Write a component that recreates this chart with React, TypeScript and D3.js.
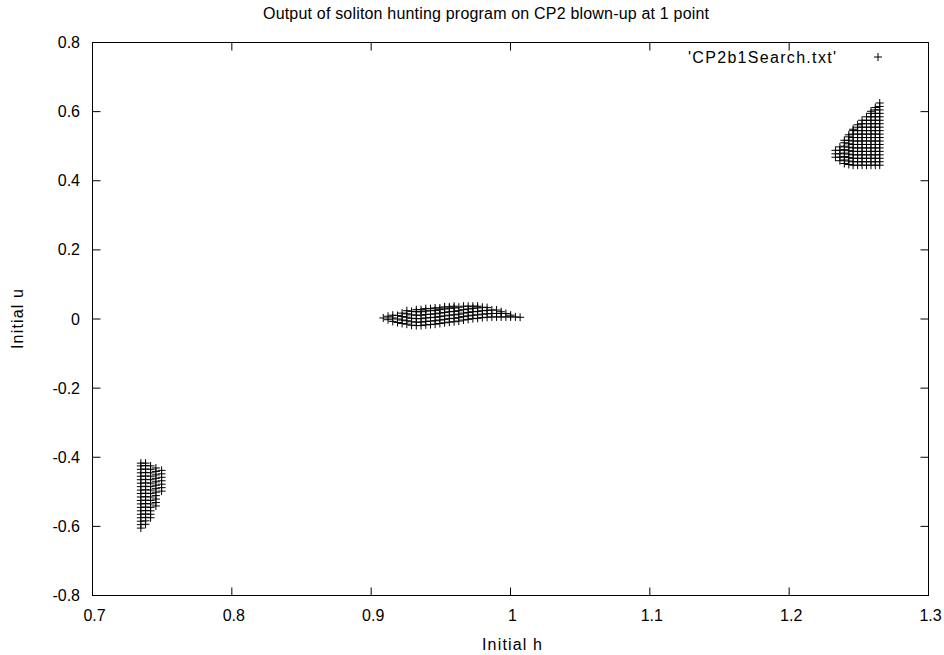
import React from "react";
import * as d3 from "d3";

const W = 944;
const H = 655;

const titleText = "Output of soliton hunting program on CP2 blown-up at 1 point";
const xLabel = "Initial h";
const yLabel = "Initial u";
const legendLabel = "'CP2b1Search.txt'";

const xTicks = [0.7, 0.8, 0.9, 1.0, 1.1, 1.2, 1.3];
const xTickLabels = ["0.7", "0.8", "0.9", "1", "1.1", "1.2", "1.3"];
const yTicks = [0.8, 0.6, 0.4, 0.2, 0, -0.2, -0.4, -0.6, -0.8];
const yTickLabels = ["0.8", "0.6", "0.4", "0.2", "0", "-0.2", "-0.4", "-0.6", "-0.8"];

// grid search: each column is an h value with the range of u values found
const uStep = 0.01;

const leftH = [0.7347, 0.7381, 0.7417, 0.7455, 0.7496];
const leftUMin = [-0.605, -0.594, -0.575, -0.541, -0.498];
const leftUMax = [-0.417, -0.417, -0.422, -0.427, -0.436];

const midH = [
  0.9087, 0.9121, 0.9155, 0.9189, 0.9222, 0.9256, 0.929, 0.9324, 0.9358, 0.9392,
  0.9426, 0.9459, 0.9493, 0.9527, 0.9561, 0.9595, 0.9629, 0.9663, 0.9696, 0.973,
  0.9764, 0.9798, 0.9832, 0.9866, 0.99, 0.9933, 0.9967, 1.0001, 1.0035, 1.0069,
];
const midUMin = [
  0.003, -0.002, -0.007, -0.01, -0.013, -0.015, -0.018, -0.019, -0.019, -0.017,
  -0.016, -0.015, -0.013, -0.011, -0.009, -0.008, -0.006, -0.003, -0.001, 0.001,
  0.002, 0.004, 0.005, 0.006, 0.006, 0.006, 0.006, 0.006, 0.006, 0.005,
];
const midUMax = [
  0.003, 0.008, 0.011, 0.014, 0.021, 0.024, 0.026, 0.027, 0.027, 0.03,
  0.03, 0.032, 0.032, 0.035, 0.035, 0.037, 0.037, 0.037, 0.037, 0.037,
  0.037, 0.035, 0.033, 0.03, 0.026, 0.021, 0.016, 0.011, 0.006, 0.005,
];

const rightH = [1.2332, 1.2364, 1.2396, 1.2428, 1.2459, 1.2491, 1.2523, 1.2555, 1.2587, 1.2618, 1.265];
const rightUMin = [0.468, 0.458, 0.45, 0.447, 0.445, 0.445, 0.445, 0.445, 0.445, 0.445, 0.445];
const rightUMax = [0.488, 0.5, 0.517, 0.533, 0.549, 0.562, 0.578, 0.589, 0.601, 0.612, 0.625];

function expand(hs: number[], lo: number[], hi: number[]) {
  const pts: [number, number][] = [];
  hs.forEach((h, i) => {
    let u = lo[i];
    while (u <= hi[i] + 1e-9) {
      pts.push([h, u]);
      u += uStep;
    }
    if (hi[i] - (u - uStep) > uStep * 0.4) pts.push([h, hi[i]]);
  });
  return pts;
}

const points = [
  ...expand(leftH, leftUMin, leftUMax),
  ...expand(midH, midUMin, midUMax),
  ...expand(rightH, rightUMin, rightUMax),
];

const left = 92.5;
const right = 928.5;
const top = 42.5;
const bottom = 595.5;

export default function App() {
  const x = d3.scaleLinear().domain([0.7, 1.3]).range([left, right]);
  const y = d3.scaleLinear().domain([-0.8, 0.8]).range([bottom, top]);
  const font = "'Liberation Sans', Arial, Helvetica, sans-serif";
  const fs = 16;
  const tick = 8;
  const m = 4;
  const plus = (px: number, py: number) =>
    `M${px - m},${py}H${px + m}M${px},${py - m}V${py + m}`;

  return (
    <svg
      width={W}
      height={H}
      style={{ position: "absolute", left: 0, top: 0, background: "#fff" }}
      fontFamily={font}
      fontSize={fs}
    >
      <rect x={0} y={0} width={W} height={H} fill="#fff" />
      <text x={486} y={19} textAnchor="middle" textLength={446} lengthAdjust="spacing">{titleText}</text>

      {xTicks.map((t, i) => (
        <g key={"xt" + i}>
          <line x1={x(t)} x2={x(t)} y1={bottom} y2={bottom - tick} stroke="#000" />
          <line x1={x(t)} x2={x(t)} y1={top} y2={top + tick} stroke="#000" />
          <text x={x(t) + 2} y={621} textAnchor="middle">{xTickLabels[i]}</text>
        </g>
      ))}
      {yTicks.map((t, i) => (
        <g key={"yt" + i}>
          <line x1={left} x2={left + tick} y1={y(t)} y2={y(t)} stroke="#000" />
          <line x1={right} x2={right - tick} y1={y(t)} y2={y(t)} stroke="#000" />
          <text x={80} y={y(t) + 5.5} textAnchor="end">{yTickLabels[i]}</text>
        </g>
      ))}

      <rect x={left} y={top} width={right - left} height={bottom - top} fill="none" stroke="#000" />

      <text x={512} y={650} textAnchor="middle" textLength={60} lengthAdjust="spacing">{xLabel}</text>
      <text transform={`translate(23,${(top + bottom) / 2}) rotate(-90)`} textAnchor="middle" textLength={60} lengthAdjust="spacing">{yLabel}</text>

      <text x={836} y={62.5} textAnchor="end" textLength={148} lengthAdjust="spacing">{legendLabel}</text>
      <path d={plus(878, 57)} stroke="#000" strokeWidth={1} fill="none" />

      <path
        d={points.map(([h, u]) => plus(x(h), y(u))).join("")}
        stroke="#000"
        strokeWidth={1}
        fill="none"
      />
    </svg>
  );
}
